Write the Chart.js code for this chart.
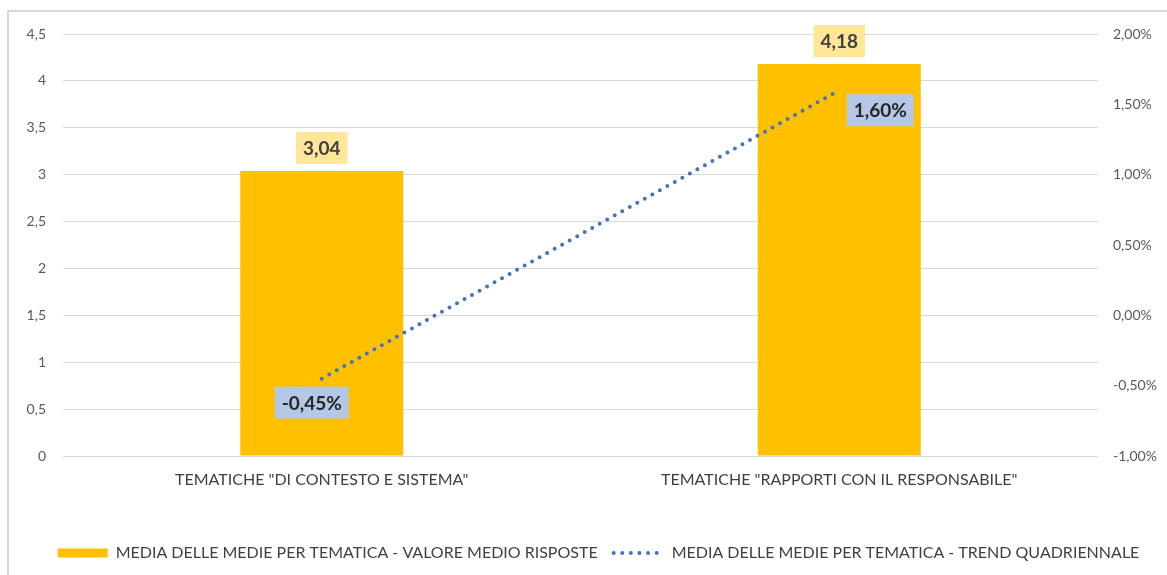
<!DOCTYPE html>
<html>
<head>
<meta charset="utf-8">
<script src="https://cdn.jsdelivr.net/npm/chart.js@4/dist/chart.umd.min.js"></script>
<style>
  html, body { margin: 0; padding: 0; background: #fff; overflow: hidden; }
  #frame {
    position: absolute; left: 7px; top: 10px; width: 1300px; height: 700px;
    border-left: 2px solid #d9d9d9; border-top: 2px solid #d9d9d9;
  }
  #wrap { position: absolute; left: 0; top: 0; width: 1167px; height: 575px; }
</style>
</head>
<body>
<div id="frame"></div>
<div id="wrap"><canvas id="chart"></canvas></div>
<script>
// ---- data ----
const categories = ['TEMATICHE "DI CONTESTO E SISTEMA"', 'TEMATICHE "RAPPORTI CON IL RESPONSABILE"'];
const seriesNames = [
  'MEDIA DELLE MEDIE PER TEMATICA - VALORE MEDIO RISPOSTE',
  'MEDIA DELLE MEDIE PER TEMATICA - TREND QUADRIENNALE'
];
const avgValues = [3.04, 4.18];        // left axis
const trendValues = [-0.45, 1.60];     // right axis, in %

const FONT = 'Lato, "Liberation Sans", sans-serif';
const BAR_COLOR = '#FFC000';
const LINE_COLOR = '#4472C4';

const fmtComma = (v, d) => v.toFixed(d).replace('.', ',');

// labels with a coloured box (like excel data callouts)
const labelOffsets = [
  [{ dx: 0, dy: -23 }, { dx: 0, dy: -23 }],     // bars: above
  [{ dx: -10, dy: 24 }, { dx: 41, dy: 20 }]      // line: below / right
];
const valueLabels = {
  id: 'valueLabels',
  afterDatasetsDraw(chart) {
    const ctx = chart.ctx;
    ctx.save();
    ctx.font = 'bold 19px ' + FONT;
    ctx.textAlign = 'center';
    ctx.textBaseline = 'middle';
    chart.data.datasets.forEach((ds, di) => {
      const meta = chart.getDatasetMeta(di);
      meta.data.forEach((el, i) => {
        const txt = di === 0 ? fmtComma(ds.data[i], 2) : fmtComma(ds.data[i], 2) + '%';
        const off = labelOffsets[di][i];
        const cx = el.x + off.dx;
        const cy = el.y + off.dy;
        const w = ctx.measureText(txt).width + 14;
        const h = 32;
        ctx.fillStyle = di === 0 ? '#FFE699' : '#B4C7E7';
        ctx.fillRect(cx - w / 2, cy - h / 2, w, h);
        ctx.fillStyle = di === 0 ? '#404040' : '#262626';
        ctx.fillText(txt, cx, cy + 1);
      });
    });
    ctx.restore();
  }
};

// legend in the original sits a bit right of centre
const legendShift = {
  id: 'legendShift',
  afterLayout(chart) {
    if (chart.legend) {
      chart.legend.left += 15;
      chart.legend.right += 15;
    }
  }
};

const ctx = document.getElementById('chart').getContext('2d');
new Chart(ctx, {
  type: 'bar',
  data: {
    labels: categories,
    datasets: [
      {
        type: 'bar',
        label: seriesNames[0],
        data: avgValues,
        backgroundColor: BAR_COLOR,
        barPercentage: 0.315,
        categoryPercentage: 1,
        yAxisID: 'y',
        order: 2
      },
      {
        type: 'line',
        label: seriesNames[1],
        data: trendValues,
        borderColor: LINE_COLOR,
        borderWidth: 4,
        borderDash: [0, 8.6],
        borderCapStyle: 'round',
        pointRadius: 0,
        fill: false,
        tension: 0,
        yAxisID: 'y1',
        order: 1
      }
    ]
  },
  options: {
    responsive: true,
    maintainAspectRatio: false,
    animation: false,
    layout: { padding: { top: 34, bottom: 4, left: 0, right: 0 } },
    plugins: {
      tooltip: { enabled: false },
      legend: {
        position: 'bottom',
        labels: {
          usePointStyle: true,
          pointStyleWidth: 50,
          boxHeight: 9,
          padding: 16,
          color: '#404040',
          font: { family: FONT, size: 16 },
          generateLabels: () => [
            { text: seriesNames[0], fillStyle: BAR_COLOR, strokeStyle: BAR_COLOR, lineWidth: 0,
              pointStyle: 'rect', fontColor: '#404040', datasetIndex: 0 },
            { text: seriesNames[1], fillStyle: LINE_COLOR, strokeStyle: LINE_COLOR, lineWidth: 4,
              lineDash: [0, 8.6], lineCap: 'round', pointStyle: 'line', fontColor: '#404040', datasetIndex: 1 }
          ]
        }
      }
    },
    scales: {
      x: {
        grid: { display: false },
        border: { display: false },
        ticks: { color: '#404040', font: { family: FONT, size: 16 }, padding: 6, maxRotation: 0 },
        afterFit: s => { s.height = 73; }
      },
      y: {
        position: 'left',
        min: 0, max: 4.5,
        ticks: {
          stepSize: 0.5, color: '#595959', padding: 17,
          font: { family: FONT, size: 14 },
          callback: v => String(v).replace('.', ',')
        },
        grid: { color: '#D9D9D9', lineWidth: 1, drawTicks: false },
        border: { display: false },
        afterFit: s => { s.width = 63; }
      },
      y1: {
        position: 'right',
        min: -1, max: 2,
        ticks: {
          stepSize: 0.5, color: '#595959', padding: 15,
          font: { family: FONT, size: 14 },
          callback: v => fmtComma(v, 2) + '%'
        },
        grid: { display: false, drawTicks: false },
        border: { display: false },
        afterFit: s => { s.width = 69; }
      }
    }
  },
  plugins: [valueLabels, legendShift]
});
</script>
</body>
</html>
